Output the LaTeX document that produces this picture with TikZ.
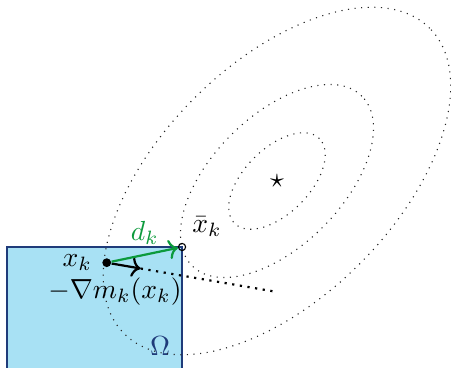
\documentclass[tikz,border=0pt]{standalone}
\usepackage{amsmath, amssymb}
\usepackage{xcolor}
\usepackage{tikz}
\usetikzlibrary{positioning,arrows.meta,calc}
\definecolor{omegafill}{HTML}{A8E1F4}
\definecolor{omegaline}{HTML}{1F3B7A}
\definecolor{stepgreen}{HTML}{0C9A3C}

\begin{document}
\begin{tikzpicture}[
    >=To,
    contour/.style={dotted, thin, black!85},
    pt/.style={circle, fill, inner sep=0pt, minimum size=3.2pt},
    hollow/.style={circle, draw, thin, inner sep=0pt, minimum size=2.6pt},
    region/.style={draw=omegaline, fill=omegafill, line width=0.5pt}
  ]
    \clip (0,0) rectangle (5.743,4.686);
    % Feasible set
    \draw[region] (0.089,-0.5) rectangle (2.318,1.541);
    \node[text=omegaline] (omega) at (2.04,0.28) {$\Omega$};
    % Level sets of the model
    \coordinate (c) at (3.527,2.381);
    \foreach \s in {1,2,3.6}
      \draw[contour, rotate around={45:(c)}] (c) ellipse ({0.764*\s} and {0.414*\s});
    \node (min) at (c) {$\star$};
    % Points
    \node[pt, label={left:$x_k$}] (xk) at (1.359,1.341) {};
    \node[hollow, label={[inner sep=2.5pt]above right:$\bar{x}_k$}] (xb) at (2.318,1.541) {};
    \node[below=0pt of xk, xshift=3pt] (grad) {$-\nabla m_k(x_k)$};
    \coordinate (sd) at (3.527,0.968);
    % Arrows
    \draw[->, thick] (xk) -- ($(xk)!0.2!(sd)$) coordinate (gtip);
    \draw[thick, dotted] (gtip) -- (sd);
    \draw[->, thick, stepgreen] (xk) -- node[above] {$d_k$} (xb);
  \end{tikzpicture}
\end{document}
